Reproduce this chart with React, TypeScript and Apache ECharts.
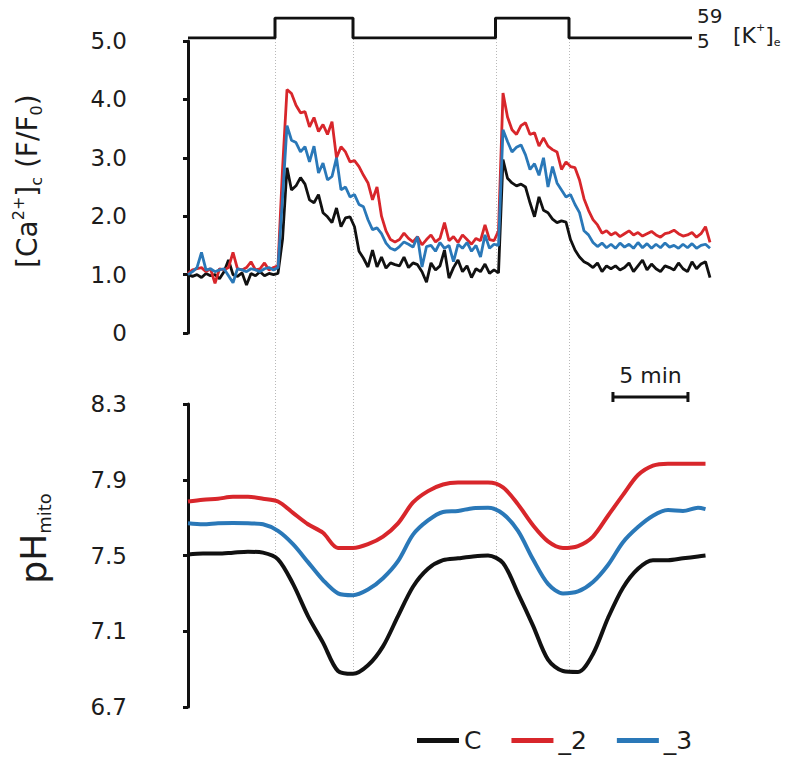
import React, { useEffect, useRef } from "react";
import * as echarts from "echarts";

// ---------- data ----------
const SERIES_NAMES = ["C", "_2", "_3"];
const COLORS = ["#111111", "#d8262b", "#2a78b8"];

// [Ca2+]c (F/F0), sampled every CA_DT minutes from t = 0
const CA_DT = 0.3;
const caC = [
  1.0, 0.97, 1.0, 0.95, 1.02, 0.98, 1.0, 0.93, 1.05, 1.25,
  1.0, 0.97, 1.03, 0.82, 1.02, 0.98, 1.05, 0.98, 1.02, 1.0,
  1.02, 1.6, 2.83, 2.45, 2.52, 2.66, 2.55, 2.28, 2.23, 2.37,
  2.06, 1.99, 1.89, 2.14, 1.82, 1.97, 1.99, 1.82, 1.4, 1.28,
  1.13, 1.42, 1.13, 1.3, 1.11, 1.2, 1.17, 1.15, 1.3, 1.12,
  1.2, 1.17, 1.05, 0.87, 1.2, 1.08, 1.15, 1.42, 0.94, 1.12,
  1.25, 1.05, 1.15, 0.95, 1.1, 1.05, 1.18, 1.02, 1.08, 1.03,
  2.97, 2.65, 2.57, 2.52, 2.55, 2.5, 2.23, 1.99, 2.33, 2.1,
  2.06, 1.95, 1.89, 1.92, 1.9, 1.6, 1.42, 1.3, 1.22, 1.18,
  1.12, 1.2, 1.05, 1.15, 1.1, 1.15, 1.08, 1.12, 1.2, 1.05,
  1.15, 1.25, 1.08, 1.18, 1.1, 1.05, 1.15, 1.12, 1.08, 1.2,
  1.1, 1.05, 1.22, 1.1, 1.18, 1.22, 0.95,
];
const ca2 = [
  1.02, 1.08, 1.1, 1.12, 1.05, 1.1, 0.85, 1.1, 1.08, 1.12,
  1.38, 1.1, 1.08, 1.12, 1.22, 1.08, 1.1, 1.2, 1.08, 1.12,
  1.15, 2.8, 4.17, 4.1, 3.9, 3.77, 3.79, 3.53, 3.69, 3.45,
  3.57, 3.4, 3.62, 3.0, 3.19, 3.1, 2.93, 2.95, 2.85, 2.7,
  2.57, 2.28, 2.5, 2.0, 1.75, 1.6, 1.56, 1.6, 1.71, 1.62,
  1.56, 1.65, 1.51, 1.6, 1.68, 1.56, 1.62, 1.89, 1.58, 1.65,
  1.55, 1.68, 1.6, 1.52, 1.62, 1.58, 1.85, 1.6, 1.58, 1.75,
  4.11, 3.7, 3.48, 3.4, 3.55, 3.6, 3.4, 3.43, 3.2, 3.34,
  3.2, 3.14, 3.1, 2.8, 2.93, 2.85, 2.83, 2.62, 2.3, 2.1,
  1.94, 1.85, 1.71, 1.75, 1.68, 1.72, 1.65, 1.7, 1.75, 1.68,
  1.72, 1.66, 1.7, 1.74, 1.68, 1.64, 1.7, 1.72, 1.76, 1.7,
  1.66, 1.68, 1.72, 1.64, 1.7, 1.82, 1.55,
];
const ca3 = [
  1.0, 1.05, 1.12, 1.38, 1.08, 1.1, 1.05, 1.08, 1.1, 0.98,
  0.86, 1.1, 1.08, 1.05, 1.1, 1.08, 1.05, 1.1, 1.12, 1.08,
  1.12, 2.3, 3.55, 3.3, 3.26, 3.1, 3.19, 2.93, 3.2, 2.74,
  2.91, 2.62, 2.68, 3.0, 2.45, 2.5, 2.33, 2.37, 2.2, 2.16,
  1.94, 1.77, 1.8, 1.7, 1.54, 1.45, 1.42, 1.48, 1.56, 1.52,
  1.47, 1.65, 1.13, 1.48, 1.5, 1.4, 1.55, 1.45, 1.5, 1.22,
  1.52, 1.45, 1.55, 1.4, 1.5, 1.3, 1.68, 1.45, 1.52, 1.5,
  3.48, 3.28, 3.1, 3.18, 3.22, 3.05, 2.8, 2.9, 2.7, 3.0,
  2.5, 2.85, 2.57, 2.45, 2.33, 2.37, 2.2, 2.06, 1.75, 1.68,
  1.55, 1.48, 1.54, 1.46, 1.52, 1.45, 1.54, 1.47, 1.52, 1.45,
  1.55, 1.46, 1.53, 1.45, 1.52, 1.46, 1.54, 1.47, 1.5, 1.45,
  1.52, 1.46, 1.53, 1.45, 1.5, 1.52, 1.45,
];

// pHmito (minutes)
const phTime = [
  0, 1, 2, 3, 4, 5, 6, 7, 8, 9, 10, 11, 12, 13, 14, 15, 16, 17,
  18, 19, 20, 21, 22, 23, 24, 25, 26, 27, 28, 29, 30, 31, 32, 33, 34, 34.5,
];
const phC = [
  7.505, 7.51, 7.51, 7.515, 7.52, 7.515, 7.48, 7.35, 7.18, 7.04, 6.89, 6.875,
  6.92, 7.02, 7.18, 7.335, 7.43, 7.475, 7.485, 7.495, 7.5, 7.46, 7.3, 7.13,
  6.95, 6.89, 6.885, 6.98, 7.17, 7.33, 7.43, 7.475, 7.475, 7.485, 7.495, 7.5,
];
const ph2 = [
  7.785, 7.795, 7.8, 7.81, 7.81, 7.8, 7.785, 7.725, 7.665, 7.62, 7.54, 7.54,
  7.56, 7.6, 7.67, 7.78, 7.84, 7.875, 7.885, 7.885, 7.885, 7.86, 7.77, 7.66,
  7.575, 7.54, 7.55, 7.6, 7.71, 7.82, 7.925, 7.975, 7.985, 7.985, 7.985, 7.985,
];
const ph3 = [
  7.67, 7.665, 7.67, 7.672, 7.67, 7.665, 7.63, 7.56, 7.465, 7.37, 7.3, 7.29,
  7.32, 7.38, 7.47, 7.61, 7.685, 7.73, 7.735, 7.75, 7.752, 7.72, 7.63, 7.48,
  7.35, 7.3, 7.31, 7.36, 7.45, 7.57, 7.65, 7.71, 7.74, 7.735, 7.752, 7.745,
];

// [K+]e protocol (mM vs minutes)
const kTime = [0, 5.8, 5.8, 11.0, 11.0, 20.5, 20.5, 25.4, 25.4, 33.6];
const kConc = [5, 5, 59, 59, 5, 5, 59, 59, 5, 5];
const K_LOW = 5;
const K_HIGH = 59;
const kTickLabels = ["59", "5"];
const stimTimes = [5.8, 11.0, 20.5, 25.4];

const SCALE_START = 28.33; // minutes
const SCALE_LEN = 5; // minutes

const X_MIN = -3.4;
const X_MAX = 34.8;

const FONT = "DejaVu Sans";
const TXT = "#1c1c1c";

function interp(xs: number[], ys: number[], x: number) {
  for (let i = 0; i < xs.length - 1; i++) {
    if (x >= xs[i] && x <= xs[i + 1]) {
      const f = (x - xs[i]) / (xs[i + 1] - xs[i]);
      return ys[i] + f * (ys[i + 1] - ys[i]);
    }
  }
  return ys[ys.length - 1];
}

export default function App() {
  const ref = useRef<HTMLDivElement>(null);
  useEffect(() => {
    if (!ref.current) return;
    const chart = echarts.init(ref.current, undefined, { renderer: "svg" });
    const caSeries = [caC, ca2, ca3];
    const phSeries = [phC, ph2, ph3];

    const axisCommon = {
      axisLine: { show: true, lineStyle: { color: "#111", width: 3 } },
      axisTick: { show: true, length: 5, lineStyle: { color: "#111", width: 3 } },
      splitLine: { show: false },
      axisLabel: { fontSize: 23, color: TXT, margin: 10, fontFamily: FONT },
    };

    const series: any[] = [
      {
        type: "line",
        name: "K",
        xAxisIndex: 0,
        yAxisIndex: 0,
        data: kTime.map((t, i) => [t, kConc[i]]),
        symbol: "none",
        lineStyle: { color: "#111", width: 3 },
        itemStyle: { color: "#111" },
      },
    ];
    SERIES_NAMES.forEach((name, s) => {
      series.push({
        type: "line",
        name,
        xAxisIndex: 1,
        yAxisIndex: 1,
        data: caSeries[s].map((v, i) => [i * CA_DT, v]),
        symbol: "none",
        lineStyle: { color: COLORS[s], width: 2.8 },
        itemStyle: { color: COLORS[s] },
      });
    });
    SERIES_NAMES.forEach((name, s) => {
      series.push({
        type: "line",
        name,
        xAxisIndex: 2,
        yAxisIndex: 2,
        data: phSeries[s].map((v, i) => [phTime[i], v]),
        symbol: "none",
        smooth: 0.3,
        lineStyle: { color: COLORS[s], width: 4 },
        itemStyle: { color: COLORS[s] },
      });
    });

    chart.setOption({
      animation: false,
      textStyle: { fontFamily: FONT },
      grid: [
        { left: 137, right: 76, top: 18, height: 20 },
        { left: 137, right: 76, top: 41, height: 292 },
        { left: 137, right: 76, top: 404, height: 303 },
      ],
      xAxis: [0, 1, 2].map((g) => ({
        type: "value",
        gridIndex: g,
        min: X_MIN,
        max: X_MAX,
        show: false,
      })),
      yAxis: [
        {
          type: "value",
          gridIndex: 0,
          min: K_LOW,
          max: K_HIGH,
          show: false,
        },
        {
          type: "value",
          gridIndex: 1,
          min: 0,
          max: 5,
          interval: 1,
          ...axisCommon,
          axisLabel: {
            ...axisCommon.axisLabel,
            formatter: (v: number) => (v === 0 ? "0" : v.toFixed(1)),
          },
        },
        {
          type: "value",
          gridIndex: 2,
          min: 6.7,
          max: 8.3,
          interval: 0.4,
          ...axisCommon,
          axisLabel: {
            ...axisCommon.axisLabel,
            formatter: (v: number) => v.toFixed(1),
          },
        },
      ],
      legend: {
        data: SERIES_NAMES,
        left: 417,
        top: 728,
        icon: "rect",
        itemWidth: 42,
        itemHeight: 5,
        itemGap: 30,
        padding: 0,
        textStyle: { fontSize: 25, color: TXT, fontFamily: FONT },
        selectedMode: false,
      },
      series,
    });

    // annotation graphics positioned through the axes' scales
    const xPix = (t: number) => chart.convertToPixel({ xAxisIndex: 2 }, t) as number;
    const yK = (v: number) => chart.convertToPixel({ yAxisIndex: 0 }, v) as number;
    const yPh = (v: number) => chart.convertToPixel({ yAxisIndex: 2 }, v) as number;
    const yCa = (v: number) => chart.convertToPixel({ yAxisIndex: 1 }, v) as number;

    const graphic: any[] = [];
    stimTimes.forEach((s) => {
      const x = Math.round(xPix(s)) + 0.5;
      graphic.push({
        type: "line",
        z: -1,
        shape: { x1: x, y1: yK(K_HIGH), x2: x, y2: yPh(interp(phTime, phC, s)) },
        style: { stroke: "#b8b8b8", lineWidth: 1, lineDash: [1, 2] },
        silent: true,
      });
    });
    const kEndX = xPix(kTime[kTime.length - 1]);
    graphic.push(
      {
        type: "text",
        x: kEndX + 5,
        y: yK(K_HIGH) - 2,
        style: { text: kTickLabels[0], fontSize: 20, fontFamily: FONT, fill: TXT, align: "left", verticalAlign: "middle" },
      },
      {
        type: "text",
        x: kEndX + 5,
        y: yK(K_LOW) + 3,
        style: { text: kTickLabels[1], fontSize: 20, fontFamily: FONT, fill: TXT, align: "left", verticalAlign: "middle" },
      }
    );
    const sbX1 = xPix(SCALE_START);
    const sbX2 = xPix(SCALE_START + SCALE_LEN);
    const sbY = yPh(8.3) - 7;
    graphic.push(
      { type: "line", shape: { x1: sbX1, y1: sbY, x2: sbX2, y2: sbY }, style: { stroke: "#111", lineWidth: 3 } },
      { type: "line", shape: { x1: sbX1, y1: sbY - 5, x2: sbX1, y2: sbY + 5 }, style: { stroke: "#111", lineWidth: 3 } },
      { type: "line", shape: { x1: sbX2, y1: sbY - 5, x2: sbX2, y2: sbY + 5 }, style: { stroke: "#111", lineWidth: 3 } },
      {
        type: "text",
        x: (sbX1 + sbX2) / 2,
        y: sbY - 22,
        style: { text: "5 min", fontSize: 22, fontFamily: FONT, fill: TXT, align: "center", verticalAlign: "middle" },
      },
      {
        type: "text",
        x: kEndX + 41,
        y: (yK(K_LOW) + yK(K_HIGH)) / 2 + 7,
        style: {
          text: "[K{sup|+}]{sub|e}",
          fontSize: 22,
          fontFamily: FONT,
          fill: TXT,
          align: "left",
          verticalAlign: "middle",
          rich: {
            sup: { fontSize: 11, fontFamily: FONT, fill: TXT, verticalAlign: "top", lineHeight: 11 },
            sub: { fontSize: 11, fontFamily: FONT, fill: TXT, verticalAlign: "bottom", lineHeight: 11 },
          },
          lineHeight: 26,
        },
      },
      {
        type: "text",
        x: 27,
        y: (yCa(0.6) + yCa(4.6)) / 2,
        rotation: Math.PI / 2,
        style: {
          text: "[Ca{sup|2+}]{sub|c} (F/F{sub|0})",
          fontSize: 28,
          fontFamily: FONT,
          fill: TXT,
          align: "center",
          verticalAlign: "middle",
          lineHeight: 34,
          rich: {
            sup: { fontSize: 16, fontFamily: FONT, fill: TXT, verticalAlign: "top", lineHeight: 16 },
            sub: { fontSize: 16, fontFamily: FONT, fill: TXT, verticalAlign: "bottom", lineHeight: 16 },
          },
        },
      },
      {
        type: "text",
        x: 33,
        y: (yPh(7.95) + yPh(7.23)) / 2,
        rotation: Math.PI / 2,
        style: {
          text: "pH{sub|mito}",
          fontSize: 36,
          fontFamily: FONT,
          fill: TXT,
          align: "center",
          verticalAlign: "middle",
          lineHeight: 40,
          rich: {
            sub: { fontSize: 18, fontFamily: FONT, fill: TXT, verticalAlign: "bottom", lineHeight: 18 },
          },
        },
      }
    );
    chart.setOption({ graphic });

    return () => chart.dispose();
  }, []);
  return (
    <div
      ref={ref}
      style={{ position: "fixed", left: 0, top: 0, width: 786, height: 761, background: "#fff" }}
    />
  );
}
